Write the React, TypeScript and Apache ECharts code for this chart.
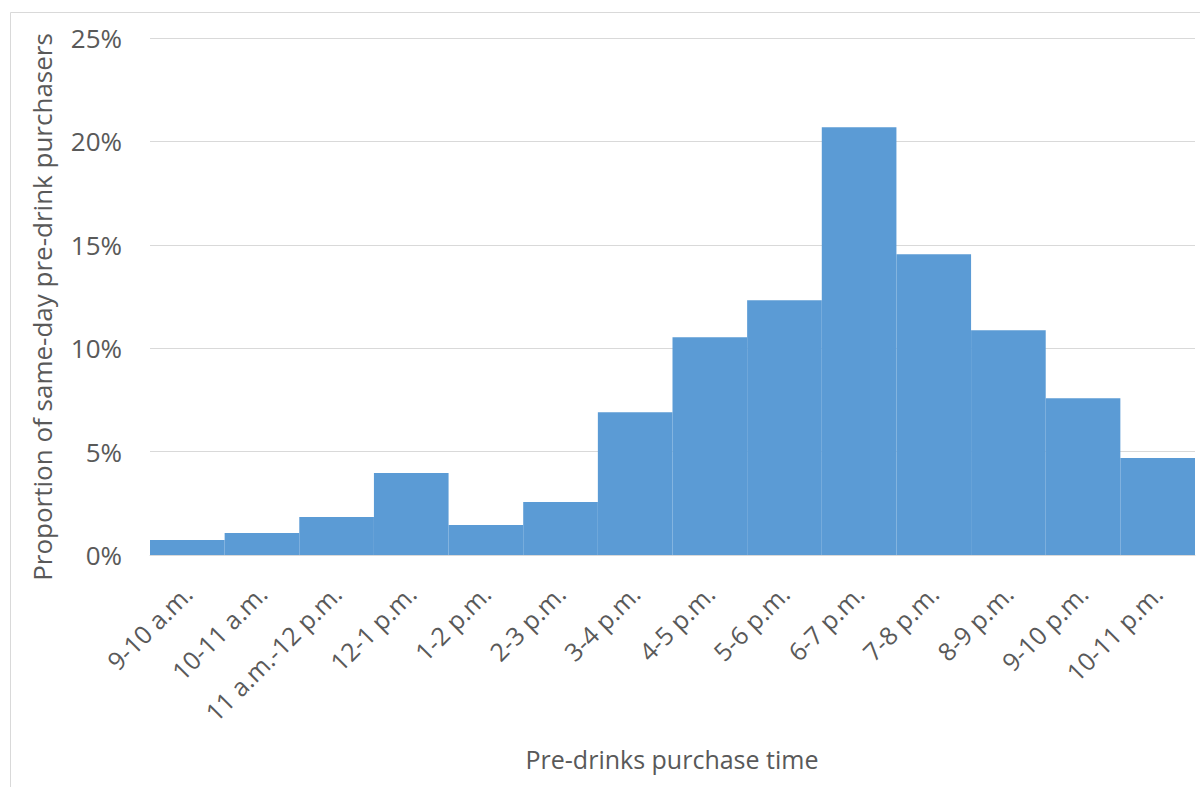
import React, { useEffect, useRef } from "react";
import * as echarts from "echarts";

const categories = [
  "9-10 a.m.",
  "10-11 a.m.",
  "11 a.m.-12 p.m.",
  "12-1 p.m.",
  "1-2 p.m.",
  "2-3 p.m.",
  "3-4 p.m.",
  "4-5 p.m.",
  "5-6 p.m.",
  "6-7 p.m.",
  "7-8 p.m.",
  "8-9 p.m.",
  "9-10 p.m.",
  "10-11 p.m.",
];
const proportions = [0.72, 1.06, 1.84, 3.96, 1.45, 2.56, 6.9, 10.53, 12.32, 20.68, 14.54, 10.87, 7.58, 4.69];
const yTicks = [0, 5, 10, 15, 20, 25];
const xTitle = "Pre-drinks purchase time";
const yTitle = "Proportion of same-day pre-drink purchasers";

const FONT = "'Open Sans', sans-serif";
const GRAY = "#595959";

export default function App() {
  const ref = useRef<HTMLDivElement>(null);
  useEffect(() => {
    document.body.style.margin = "0";
    const chart = echarts.init(ref.current!, null, { renderer: "svg" });
    chart.setOption({
      animation: false,
      backgroundColor: "#ffffff",
      grid: { left: 150, right: 5, top: 38, bottom: 232, containLabel: false },
      xAxis: {
        type: "category",
        data: categories,
        axisLine: { show: true, lineStyle: { color: "#D9D9D9", width: 1 } },
        axisTick: { show: false },
        axisLabel: {
          rotate: 45,
          interval: 0,
          margin: 34,
          color: GRAY,
          fontFamily: FONT,
          fontSize: 25,
        },
      },
      yAxis: {
        type: "value",
        min: yTicks[0],
        max: yTicks[yTicks.length - 1],
        interval: 5,
        axisLine: { show: false },
        axisTick: { show: false },
        splitLine: { lineStyle: { color: "#D9D9D9", width: 1 } },
        axisLabel: {
          formatter: (v: number) => `${v}%`,
          color: GRAY,
          fontFamily: FONT,
          fontSize: 26,
          margin: 28,
        },
      },
      graphic: [
        {
          type: "rect",
          shape: { x: 10.5, y: 12.5, width: 1400, height: 1000 },
          style: { fill: "none", stroke: "#D9D9D9", lineWidth: 1 },
          silent: true,
          z: -1,
        },
        {
          type: "text",
          x: 672,
          y: 759,
          style: {
            text: xTitle,
            fill: GRAY,
            font: `25px ${FONT}`,
            textAlign: "center",
            textVerticalAlign: "middle",
          },
        },
        {
          type: "text",
          x: 42,
          y: 307,
          rotation: Math.PI / 2,
          style: {
            text: yTitle,
            fill: GRAY,
            font: `26px ${FONT}`,
            textAlign: "center",
            textVerticalAlign: "middle",
          },
        },
      ],
      series: [
        {
          type: "bar",
          data: proportions,
          barCategoryGap: "0%",
          itemStyle: { color: "#5B9BD5" },
        },
      ],
    });
    return () => chart.dispose();
  }, []);
  return <div ref={ref} style={{ width: 1200, height: 787 }} />;
}
